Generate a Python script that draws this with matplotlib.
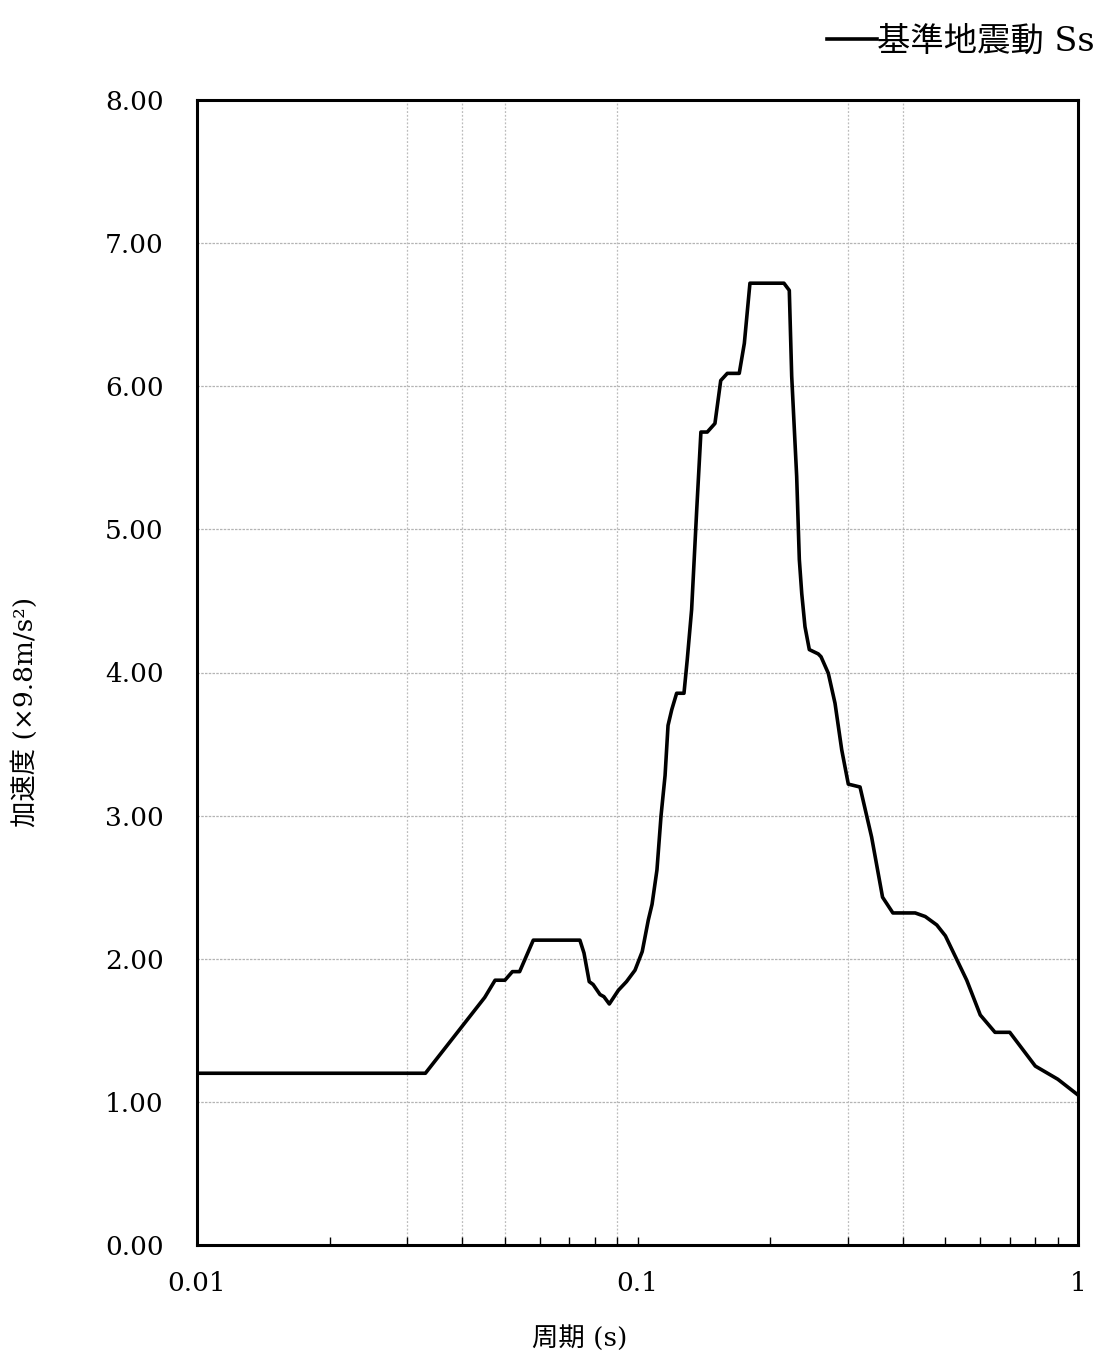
import matplotlib
matplotlib.use("Agg")
import matplotlib.pyplot as plt
from matplotlib.ticker import FixedLocator, NullFormatter, FixedFormatter

plt.rcParams['font.family'] = ['DejaVu Serif', 'Noto Sans CJK JP']

# Data (period [s], acceleration [x9.8 m/s^2])
period = [0.01, 0.033, 0.045, 0.0475, 0.050, 0.052, 0.054, 0.058, 0.074, 0.0756,
          0.0777, 0.0793, 0.0822, 0.0839, 0.0863, 0.0905, 0.0944, 0.0987, 0.1025,
          0.1058, 0.1079, 0.1107, 0.1131, 0.1155, 0.1173, 0.1196, 0.1227, 0.1275,
          0.1297, 0.1327, 0.1363, 0.1393, 0.1440, 0.1499, 0.1545, 0.1599, 0.1702,
          0.1748, 0.180, 0.215, 0.2211, 0.2239, 0.2298, 0.2330, 0.2360, 0.2400,
          0.2455, 0.2572, 0.2610, 0.2711, 0.2808, 0.2908, 0.301, 0.320, 0.340,
          0.360, 0.380, 0.427, 0.450, 0.478, 0.500, 0.559, 0.600, 0.648, 0.700,
          0.800, 0.900, 1.0]
accel = [1.20, 1.20, 1.73, 1.85, 1.85, 1.91, 1.91, 2.13, 2.13, 2.04,
         1.84, 1.82, 1.75, 1.735, 1.684, 1.78, 1.84, 1.92, 2.05,
         2.27, 2.38, 2.62, 3.00, 3.28, 3.63, 3.74, 3.855, 3.855,
         4.09, 4.44, 5.14, 5.68, 5.68, 5.74, 6.04, 6.09, 6.09,
         6.30, 6.72, 6.72, 6.67, 6.07, 5.37, 4.79, 4.55, 4.32,
         4.16, 4.13, 4.11, 3.995, 3.785, 3.46, 3.22, 3.20, 2.85,
         2.43, 2.32, 2.32, 2.295, 2.236, 2.16, 1.85, 1.607, 1.486, 1.486,
         1.25, 1.158, 1.048]

series_label = "基準地震動 Ss"
x_label = "周期 (s)"
y_label = "加速度 (×9.8m/s²)"
x_ticks = [0.01, 0.1, 1]
x_ticklabels = ["0.01", "0.1", "1"]
y_ticks = [0, 1, 2, 3, 4, 5, 6, 7, 8]
y_ticklabels = ["0.00", "1.00", "2.00", "3.00", "4.00", "5.00", "6.00", "7.00", "8.00"]
minor_x = [0.02, 0.03, 0.04, 0.05, 0.06, 0.07, 0.08, 0.09,
           0.2, 0.3, 0.4, 0.5, 0.6, 0.7, 0.8, 0.9]
grid_x = [0.03, 0.04, 0.05, 0.09, 0.3, 0.4]
grid_y = [1, 2, 3, 4, 5, 6, 7]

fig = plt.figure(figsize=(11, 13.59), dpi=100)
ax = fig.add_axes([197/1100, 1 - 1245/1359, (1078-197)/1100, (1245-100)/1359])

for gy in grid_y:
    ax.axhline(gy, color='#b4b4b4', lw=0.9, ls=(0, (2, 1)), zorder=1)
for gx in grid_x:
    ax.axvline(gx, color='#bcbcbc', lw=0.9, ls=(0, (1.5, 1.5)), zorder=1)

line, = ax.plot(period, accel, color='black', lw=2.6, label=series_label, zorder=3)

ax.set_xscale('log')
ax.set_xlim(0.01, 1)
ax.set_ylim(0, 8)
ax.xaxis.set_major_locator(FixedLocator(x_ticks))
ax.xaxis.set_major_formatter(FixedFormatter(x_ticklabels))
ax.xaxis.set_minor_locator(FixedLocator(minor_x))
ax.xaxis.set_minor_formatter(NullFormatter())
ax.yaxis.set_major_locator(FixedLocator(y_ticks))
ax.yaxis.set_major_formatter(FixedFormatter(y_ticklabels))

ax.tick_params(axis='x', which='both', direction='in', length=6, width=1,
               labelsize=19, pad=19, top=False)
ax.tick_params(axis='y', which='both', length=0, labelsize=19, pad=24)
for s in ax.spines.values():
    s.set_linewidth(2.2)
    s.set_color('black')

fig.text(580/1100, 1 - 1338/1359, x_label, ha='center', va='center', fontsize=19)
fig.text(25/1100, 1 - 712/1359, y_label, ha='center', va='center',
         rotation=90, fontsize=19)

fig.legend(handles=[line], labels=[series_label], loc='upper right',
           bbox_to_anchor=(1.0 + 18/1100, 1 - 2/1359), frameon=False,
           fontsize=24, handlelength=1.5, handletextpad=0.0, borderpad=0.2)

fig.savefig("out.png", dpi=100, facecolor='white')
